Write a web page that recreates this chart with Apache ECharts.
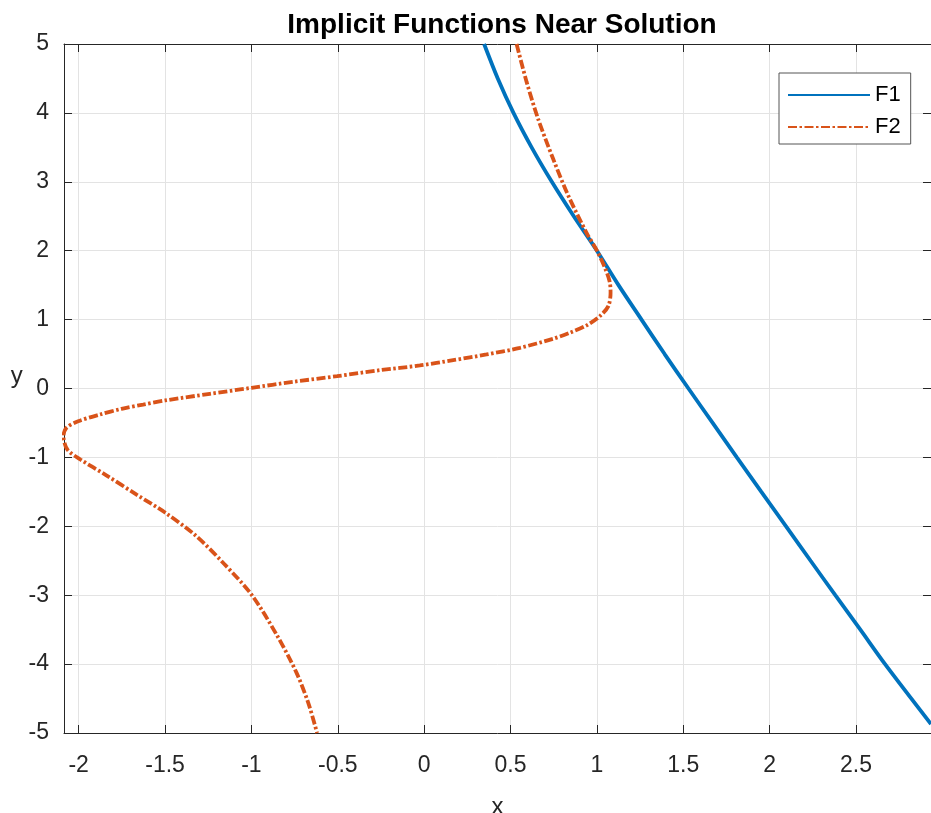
<!DOCTYPE html>
<html>
<head>
<meta charset="utf-8">
<title>Implicit Functions Near Solution</title>
<script src="https://cdn.jsdelivr.net/npm/echarts@6/dist/echarts.min.js"></script>
<style>
  html, body { margin: 0; padding: 0; background: #fff; }
  #chart { width: 931px; height: 813px; }
</style>
</head>
<body>
<div id="chart"></div>
<script>
// F1 curve, points (x, y)
var f1X = [0.347, 0.426, 0.517, 0.622, 0.739, 0.866, 1.0, 1.125, 1.258, 1.392, 1.53, 1.67, 1.81, 1.952, 2.095, 2.237, 2.38, 2.525, 2.668, 2.934];
var f1Y = [5, 4.5, 4, 3.5, 3, 2.5, 2, 1.5, 1, 0.5, 0, -0.5, -1, -1.5, -2, -2.5, -3, -3.5, -4, -4.87];

// F2 curve (x, y), from the top of the plot to the bottom
var f2X = [0.535, 0.593, 0.660, 0.747, 0.834, 0.940, 1.0, 1.045, 1.074, 1.079, 1.066, 1.017, 0.940, 0.844, 0.747, 0.554, 0.361, 0.168, -0.025,
           -0.257, -0.504, -0.759, -0.999, -1.241, -1.5, -1.627, -1.752, -1.878, -2.003, -2.071, -2.088, -2.065,
           -1.99, -1.84, -1.665, -1.5, -1.32, -1.16, -1.0, -0.855, -0.74, -0.67, -0.62];
var f2Y = [5, 4.45, 3.91, 3.33, 2.80, 2.26, 2.0, 1.76, 1.55, 1.39, 1.196, 1.051, 0.916, 0.81, 0.722, 0.59, 0.494, 0.411, 0.334,
           0.266, 0.179, 0.097, 0.01, -0.077, -0.174, -0.233, -0.295, -0.378, -0.475, -0.571, -0.693, -0.887,
           -1.03, -1.26, -1.54, -1.8, -2.14, -2.54, -2.99, -3.57, -4.12, -4.57, -5.0];

var seriesNames = ['F1', 'F2'];
var xMin = -2.085, xMax = 2.934;
var yMin = -5, yMax = 5;

function pairs(xs, ys) {
    var out = [];
    for (var i = 0; i < xs.length; i++) out.push([xs[i], ys[i]]);
    return out;
}

var axisColor = '#262626';
var gridColor = '#e3e3e3';
var font = 'Liberation Sans, Arial, sans-serif';

var chart = echarts.init(document.getElementById('chart'), null, { renderer: 'canvas' });

var option = {
    animation: false,
    title: {
        text: 'Implicit Functions Near Solution',
        left: 497, top: 6, textAlign: 'center',
        textStyle: { fontFamily: font, fontSize: 28, fontWeight: 'bold', color: '#000' }
    },
    legend: {
        data: seriesNames,
        orient: 'vertical',
        left: 779, top: 73,
        padding: [11, 10, 6, 8],
        itemWidth: 82, itemHeight: 14, itemGap: 10,
        borderColor: '#555', borderWidth: 1, backgroundColor: '#fff',
        itemStyle: { opacity: 0 },
        textStyle: { fontFamily: font, fontSize: 22, color: '#000' }
    },
    grid: { left: 64, top: 44, right: 0, bottom: 80, outerBoundsMode: 'none' },
    xAxis: [{
        type: 'value', min: xMin, max: xMax, splitNumber: 10,
        name: 'x', nameLocation: 'middle', nameGap: 62,
        nameTextStyle: { fontFamily: font, fontSize: 24, color: axisColor },
        axisLine: { onZero: false, lineStyle: { color: axisColor } },
        axisTick: { inside: true, length: 8, lineStyle: { color: axisColor } },
        axisLabel: { showMinLabel: false, showMaxLabel: false, margin: 21,
            fontFamily: font, fontSize: 23, color: axisColor },
        splitLine: { show: true, lineStyle: { color: gridColor } }
    }, {
        type: 'value', position: 'top', min: xMin, max: xMax, splitNumber: 10,
        axisLine: { onZero: false, lineStyle: { color: axisColor } },
        axisTick: { inside: true, length: 8, lineStyle: { color: axisColor } },
        axisLabel: { show: false }, splitLine: { show: false }
    }],
    yAxis: [{
        type: 'value', min: yMin, max: yMax, interval: 1,
        name: 'y', nameLocation: 'middle', nameGap: 37, nameRotate: 0,
        nameTextStyle: { fontFamily: font, fontSize: 24, color: axisColor, verticalAlign: 'bottom' },
        axisLine: { show: true, onZero: false, lineStyle: { color: axisColor } },
        axisTick: { show: true, inside: true, length: 8, lineStyle: { color: axisColor } },
        axisLabel: { margin: 15, fontFamily: font, fontSize: 23, color: axisColor },
        splitLine: { show: true, lineStyle: { color: gridColor } }
    }, {
        type: 'value', position: 'right', min: yMin, max: yMax, interval: 1,
        axisLine: { show: true, onZero: false, lineStyle: { color: axisColor } },
        axisTick: { show: true, inside: true, length: 8, lineStyle: { color: axisColor } },
        axisLabel: { show: false }, splitLine: { show: false }
    }],
    series: [{
        name: seriesNames[0], type: 'line',
        data: pairs(f1X, f1Y),
        smooth: 0.3, symbol: 'none',
        lineStyle: { color: '#0072BD', width: 3.8 },
        itemStyle: { color: '#0072BD' }
    }, {
        name: seriesNames[1], type: 'line',
        data: pairs(f2X, f2Y),
        smooth: 0.3, symbol: 'none',
        lineStyle: { color: '#D95319', width: 3.8, type: [9, 2.5, 2.5, 2.5] },
        itemStyle: { color: '#D95319' }
    }]
};

chart.setOption(option);
</script>
</body>
</html>
